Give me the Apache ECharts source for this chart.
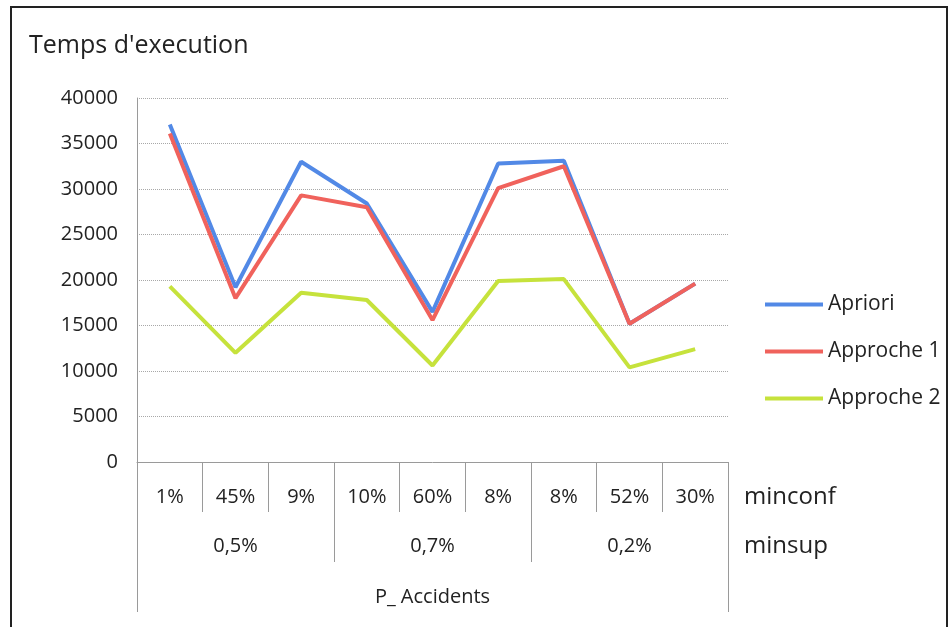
<!DOCTYPE html>
<html>
<head>
<meta charset="utf-8">
<script src="https://cdn.jsdelivr.net/npm/echarts@6/dist/echarts.min.js"></script>
<style>
html,body{margin:0;padding:0;background:#fff;}
#main{width:949px;height:627px;}
</style>
</head>
<body>
<div id="main"></div>
<script>
const minconf = ['1%', '45%', '9%', '10%', '60%', '8%', '8%', '52%', '30%'];
const minsup = ['0,5%', '0,7%', '0,2%'];
const dataset = ['P_ Accidents'];
const apriori = [37100, 19200, 33000, 28400, 16500, 32800, 33100, 15200, 19600];
const approche1 = [36100, 18000, 29300, 28000, 15600, 30100, 32500, 15200, 19600];
const approche2 = [19300, 12000, 18600, 17800, 10600, 19900, 20100, 10400, 12400];
const yTicks = {min: 0, max: 40000, interval: 5000};

const FONT = 'Open Sans';
const TXT = '#222';
const AX = '#9a9a9a';

const chart = echarts.init(document.getElementById('main'), null, {renderer: 'canvas'});
chart.setOption({
  animation: false,
  backgroundColor: '#fff',
  textStyle: {fontFamily: FONT},
  title: {
    text: "Temps d'execution",
    left: 24, top: 28,
    textStyle: {fontFamily: FONT, fontSize: 25, fontWeight: 'normal', color: TXT}
  },
  legend: {
    orient: 'vertical',
    left: 760, top: 289,
    icon: 'rect',
    itemWidth: 58, itemHeight: 4,
    itemGap: 26,
    textStyle: {fontFamily: FONT, fontSize: 21, color: TXT, lineHeight: 20},
    data: ['Apriori', 'Approche 1', 'Approche 2']
  },
  grid: {left: 137, right: 221, top: 98, bottom: 165, containLabel: false},
  xAxis: [
    {
      type: 'category', position: 'bottom', data: minconf,
      axisLine: {lineStyle: {color: AX, width: 1}},
      axisTick: {show: true, interval: 0, length: 50, lineStyle: {color: AX}},
      axisLabel: {interval: 0, margin: 25, fontSize: 20, color: TXT, fontFamily: FONT}
    },
    {
      type: 'category', position: 'bottom', offset: 0, data: minsup,
      axisLine: {show: false},
      axisTick: {show: true, interval: 0, length: 100, lineStyle: {color: AX}},
      axisLabel: {interval: 0, margin: 74, fontSize: 20, color: TXT, fontFamily: FONT}
    },
    {
      type: 'category', position: 'bottom', offset: 0, data: dataset,
      axisLine: {show: false},
      axisTick: {show: true, interval: 0, length: 150, lineStyle: {color: AX}},
      axisLabel: {interval: 0, margin: 125, fontSize: 20, color: TXT, fontFamily: FONT}
    }
  ],
  yAxis: {
    type: 'value', min: yTicks.min, max: yTicks.max, interval: yTicks.interval,
    axisLine: {show: true, lineStyle: {color: AX}},
    axisTick: {show: false},
    axisLabel: {margin: 19, fontSize: 20, color: TXT, fontFamily: FONT, formatter: v => String(v)},
    splitLine: {show: true, lineStyle: {color: '#a8a8a8', type: 'dotted', width: 1}}
  },
  series: [
    {name: 'Apriori', type: 'line', data: apriori, xAxisIndex: 0, symbol: 'none',
     lineStyle: {width: 4, color: '#5289E6'}, itemStyle: {color: '#5289E6'}},
    {name: 'Approche 1', type: 'line', data: approche1, xAxisIndex: 0, symbol: 'none',
     lineStyle: {width: 4, color: '#F0625C'}, itemStyle: {color: '#F0625C'}},
    {name: 'Approche 2', type: 'line', data: approche2, xAxisIndex: 0, symbol: 'none',
     lineStyle: {width: 4, color: '#C6E23C'}, itemStyle: {color: '#C6E23C'}}
  ],
  graphic: [
    {type: 'rect', shape: {x: 11, y: 7, width: 936, height: 660}, style: {fill: 'none', stroke: '#222', lineWidth: 2}, silent: true},
    {type: 'text', left: 744, top: 485, style: {text: 'minconf', fontFamily: FONT, fontSize: 24, fill: TXT}},
    {type: 'text', left: 744, top: 534, style: {text: 'minsup', fontFamily: FONT, fontSize: 24, fill: TXT}}
  ]
});
</script>
</body>
</html>
